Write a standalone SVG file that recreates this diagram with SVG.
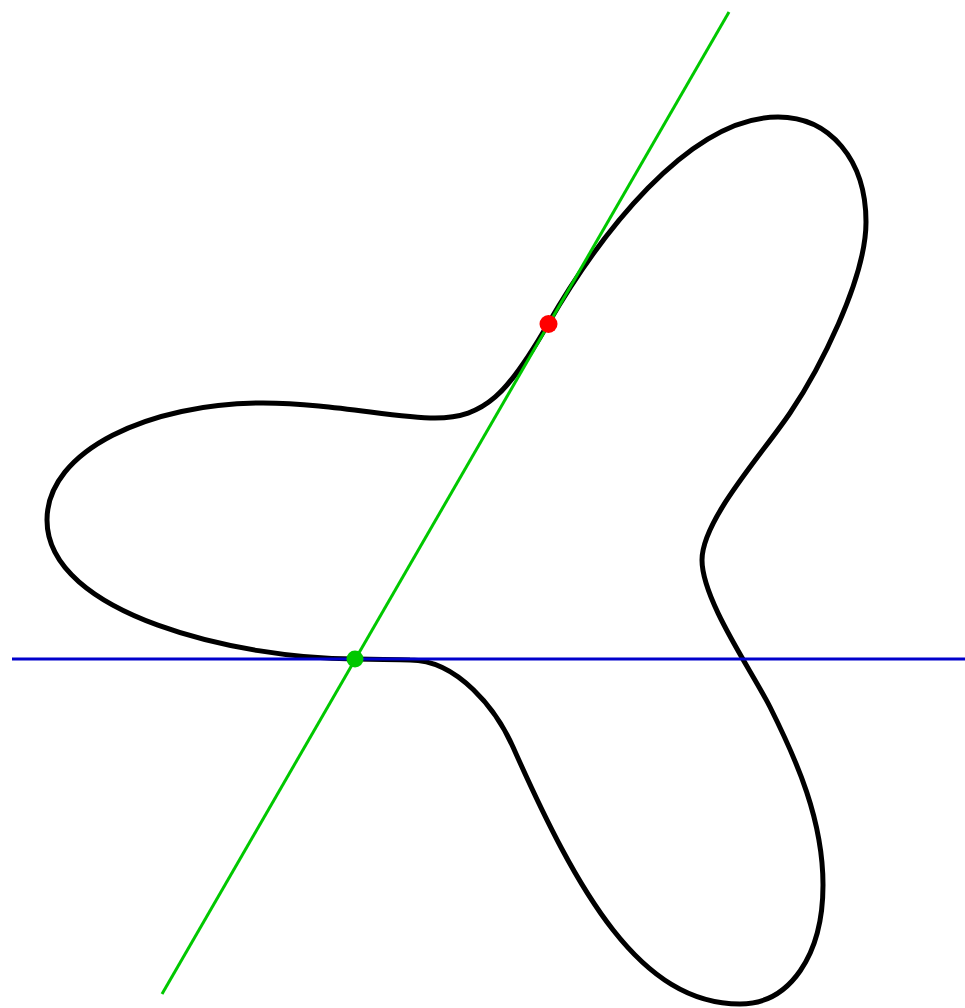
<svg xmlns="http://www.w3.org/2000/svg" width="965" height="1008" viewBox="0 0 965 1008">
<style>
.curve{fill:none;stroke:#000;stroke-width:5;stroke-linejoin:round}
.hline{stroke:#0000cc;stroke-width:3;fill:none}
.gline{stroke:#00c800;stroke-width:3;fill:none}
</style>
<rect width="965" height="1008" fill="#fff"/>
<g id="curve">
<path class="curve" d="M355,659 C240,659 47,615 47,520 C47,450 150,403 263,403 C330,403 395,418 435,418 C485,418 508,393.3 548,324 C598,237.4 688,117 778,117 C830,117 866,160 866,222 C866,280 818,371.5 790,413 C762,454.5 702,520 702,560 C702,600 752,671 770,707 C797,761 823,820 823,885 C823,955 790,1004 740,1004 C640,1004 577.8,893 513,747 C496.8,710.4 458,660 410,660 C390,659.5 370,659 355,659 Z"/>
</g>
<g id="lines">
<line class="hline" x1="12" y1="659" x2="965" y2="659"/>
<line class="gline" x1="162" y1="994" x2="729" y2="12"/>
</g>
<g id="points">
<circle id="green-point" cx="355" cy="659" r="8.5" fill="#00c800"/>
<circle id="red-point" cx="548.5" cy="324" r="9" fill="#ff0000"/>
</g>
</svg>
